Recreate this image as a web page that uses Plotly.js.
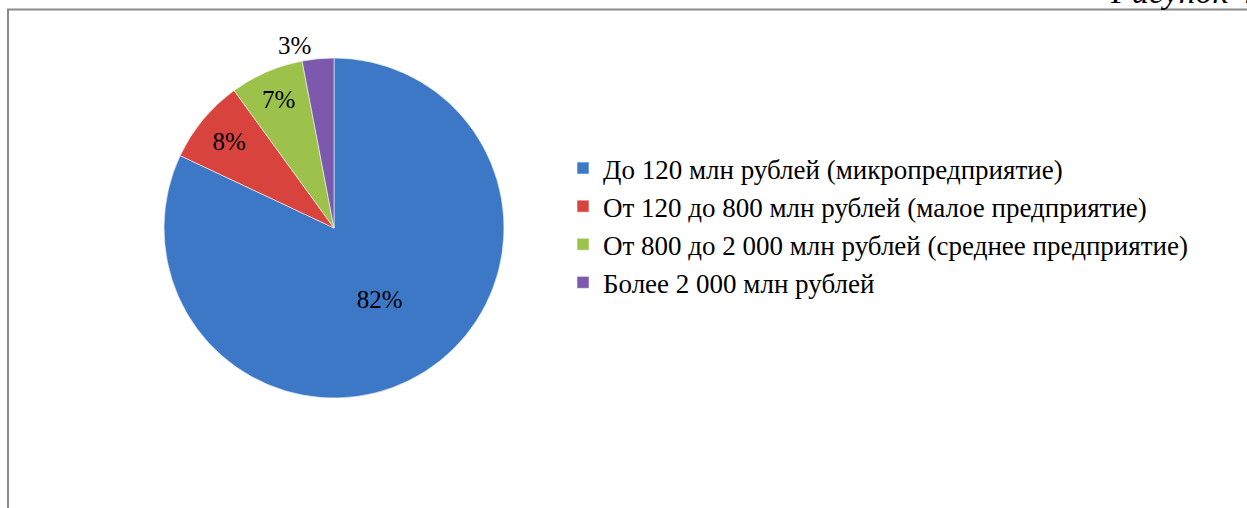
<!DOCTYPE html>
<html>
<head>
<meta charset="utf-8">
<script src="https://cdn.plot.ly/plotly-3.0.1.min.js"></script>
<style>
html,body{margin:0;padding:0;background:#fff;}
#chart{width:1247px;height:508px;}
</style>
</head>
<body>
<div id="chart"></div>
<script>
const categories = [
  'До 120 млн рублей (микропредприятие)',
  'От 120 до 800 млн рублей (малое предприятие)',
  'От 800 до 2 000 млн рублей (среднее предприятие)',
  'Более 2 000 млн рублей'
];
const shares = [82, 8, 7, 3];
const sliceColors = ['#3D78C6', '#D8433E', '#9CC24C', '#7D59AE'];
const textPositions = ['inside', 'inside', 'inside', 'outside'];
const figureLabel = 'Рисунок 4';

const W = 1247, H = 508;
const cx = 334, cy = 228, r = 170;
const SERIF = 'Liberation Serif';

const trace = {
  type: 'pie',
  labels: categories,
  values: shares,
  sort: false,
  direction: 'clockwise',
  rotation: 0,
  marker: {colors: sliceColors, line: {color: 'rgba(255,255,255,0.55)', width: 1}},
  textinfo: 'percent',
  texttemplate: '%{percent:.0%}',
  textposition: textPositions,
  insidetextorientation: 'horizontal',
  textfont: {family: SERIF, size: 25, color: '#000'},
  hoverinfo: 'label+percent',
  domain: {
    x: [(cx - r) / W, (cx + r) / W],
    y: [(H - cy - r) / H, (H - cy + r) / H]
  }
};

const layout = {
  width: W, height: H,
  margin: {l: 0, r: 0, t: 0, b: 0},
  paper_bgcolor: '#fff',
  font: {family: SERIF, color: '#000'},
  showlegend: true,
  legend: {
    x: 563 / W, y: (H - 144) / H, xanchor: 'left', yanchor: 'top',
    font: {family: SERIF, size: 27, color: '#000'},
    bgcolor: 'rgba(0,0,0,0)', traceorder: 'normal'
  },
  shapes: [
    {type: 'line', xref: 'paper', yref: 'paper', x0: 8 / W, x1: 8 / W, y0: 0, y1: (H - 9) / H, line: {color: '#8a8a8a', width: 2}},
    {type: 'line', xref: 'paper', yref: 'paper', x0: 7 / W, x1: 1, y0: (H - 9.5) / H, y1: (H - 9.5) / H, line: {color: '#8a8a8a', width: 2}}
  ],
  annotations: [
    {text: '<i>' + figureLabel + '</i>', xref: 'paper', yref: 'paper', x: 1256 / W, y: (H - 12.5) / H,
     xanchor: 'right', yanchor: 'bottom', showarrow: false,
     font: {family: SERIF, size: 34, color: '#000'}}
  ]
};

Plotly.newPlot('chart', [trace], layout, {displayModeBar: false, staticPlot: true});
</script>
</body>
</html>
